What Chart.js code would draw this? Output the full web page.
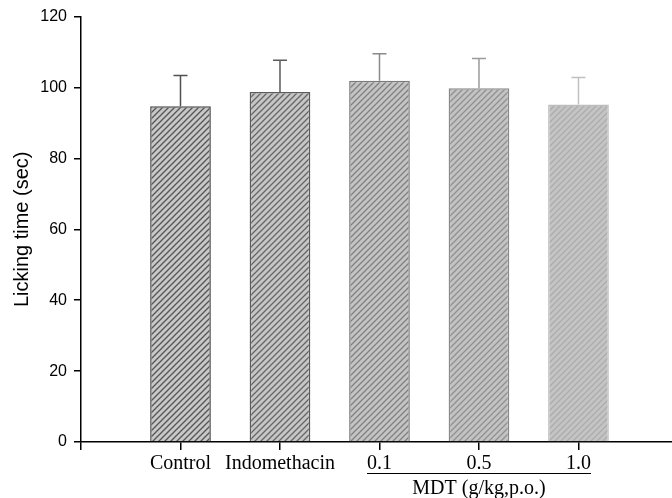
<!DOCTYPE html>
<html>
<head>
<meta charset="utf-8">
<script src="https://cdn.jsdelivr.net/npm/chart.js@4.4.1/dist/chart.umd.min.js"></script>
<style>
  html, body { margin: 0; padding: 0; background: #fff; overflow: hidden; }
  #wrap { width: 672px; height: 498px; }
</style>
</head>
<body>
<div id="wrap"><canvas id="c" width="672" height="498"></canvas></div>
<script>
// ---- data ----
const categories = ['Control', 'Indomethacin', '0.1', '0.5', '1.0'];
const means = [94.7, 98.7, 101.9, 99.8, 95.2];
const sems = [8.7, 9.0, 7.6, 8.4, 7.6];
const yTickValues = [0, 20, 40, 60, 80, 100, 120];
const yTitle = 'Licking time (sec)';
const groupLabel = 'MDT (g/kg,p.o.)';
const groupFirst = 2, groupLast = 4;

// ---- styles ----
const hatchBg = ['#c8c8c8', '#c6c6c6', '#c4c4c4', '#c3c3c3', '#c4c4c4'];
const hatchLine = ['#555555', '#666666', '#808080', '#909090', '#acacac'];
const borderCols = ['#4a4a4a', '#5c5c5c', '#7a7a7a', '#8a8a8a', '#bdbdbd'];
const errCols = ['#505050', '#5a5a5a', '#8a8a8a', '#9a9a9a', '#c0c0c0'];

function makeHatch(bg, fg) {
  const s = 6;
  const c = document.createElement('canvas');
  c.width = s; c.height = s;
  const g = c.getContext('2d');
  g.fillStyle = bg; g.fillRect(0, 0, s, s);
  g.strokeStyle = fg; g.lineWidth = 1.3;
  g.beginPath();
  g.moveTo(-1, s + 1); g.lineTo(s + 1, -1);
  g.moveTo(-1, 1); g.lineTo(1, -1);
  g.moveTo(s - 1, s + 1); g.lineTo(s + 1, s - 1);
  g.stroke();
  return document.getElementById('c').getContext('2d').createPattern(c, 'repeat');
}
const patterns = categories.map((_, i) => makeHatch(hatchBg[i], hatchLine[i]));

const errorBars = {
  id: 'errorBars',
  afterDatasetsDraw(chart) {
    const ctx = chart.ctx;
    const meta = chart.getDatasetMeta(0);
    const ys = chart.scales.y;
    ctx.save();
    meta.data.forEach((bar, i) => {
      const x = bar.x;
      const yTop = ys.getPixelForValue(means[i] + sems[i]);
      const yBar = ys.getPixelForValue(means[i]);
      ctx.strokeStyle = errCols[i];
      ctx.lineWidth = 1.5;
      ctx.beginPath();
      ctx.moveTo(x, yBar); ctx.lineTo(x, yTop);
      ctx.moveTo(x - 7, yTop); ctx.lineTo(x + 7, yTop);
      ctx.stroke();
    });
    ctx.restore();
  },
  afterDraw(chart) {
    const ctx = chart.ctx;
    const xs = chart.scales.x;
    ctx.save();
    ctx.font = '20px "Liberation Serif", "Times New Roman", serif';
    const x1 = xs.getPixelForValue(groupFirst + 1) - ctx.measureText(categories[groupFirst]).width / 2;
    const x2 = xs.getPixelForValue(groupLast + 1) + ctx.measureText(categories[groupLast]).width / 2;
    ctx.strokeStyle = '#000';
    ctx.lineWidth = 1;
    ctx.beginPath();
    ctx.moveTo(x1, 473.5); ctx.lineTo(x2, 473.5);
    ctx.stroke();
    ctx.fillStyle = '#000';
    ctx.textAlign = 'center';
    ctx.textBaseline = 'alphabetic';
    ctx.fillText(groupLabel, (x1 + x2) / 2, 494);
    ctx.restore();
  }
};

new Chart(document.getElementById('c'), {
  type: 'bar',
  data: {
    datasets: [{
      data: means.map((v, i) => ({ x: i + 1, y: v })),
      backgroundColor: patterns,
      borderColor: borderCols,
      borderWidth: 1.5,
      barPercentage: 0.61,
      categoryPercentage: 1
    }]
  },
  options: {
    responsive: false,
    devicePixelRatio: 1,
    animation: false,
    layout: { padding: { top: 11, right: 0, left: 0, bottom: 0 } },
    plugins: { legend: { display: false }, tooltip: { enabled: false } },
    scales: {
      x: {
        type: 'linear',
        offset: false,
        min: 0,
        max: 5.94,
        afterBuildTicks(scale) {
          scale.ticks = [{ value: 0 }].concat(categories.map((c, i) => ({ value: i + 1 })));
        },
        afterFit(scale) { scale.height = 56; },
        ticks: {
          autoSkip: false,
          maxRotation: 0,
          color: '#000',
          padding: 2,
          font: { family: '"Liberation Serif", "Times New Roman", serif', size: 20 },
          callback: (v) => (v >= 1 ? categories[v - 1] : '')
        },
        grid: { offset: false, drawOnChartArea: false, drawTicks: true, tickLength: 8, color: '#000', lineWidth: 1.5 },
        border: { color: '#000', width: 1.5 }
      },
      y: {
        min: 0,
        max: 120,
        afterBuildTicks(scale) { scale.ticks = yTickValues.map(v => ({ value: v })); },
        afterFit(scale) { scale.width = 81; },
        ticks: {
          color: '#000',
          padding: 7,
          font: { family: '"Liberation Sans", Arial, sans-serif', size: 16 }
        },
        grid: { drawOnChartArea: false, drawTicks: true, tickLength: 7, color: '#000', lineWidth: 1.5 },
        border: { color: '#000', width: 1.5 },
        title: {
          display: true,
          text: yTitle,
          color: '#000',
          padding: { top: 10, bottom: 0 },
          font: { family: '"Liberation Sans", Arial, sans-serif', size: 20 }
        }
      }
    }
  },
  plugins: [errorBars]
});
</script>
</body>
</html>
